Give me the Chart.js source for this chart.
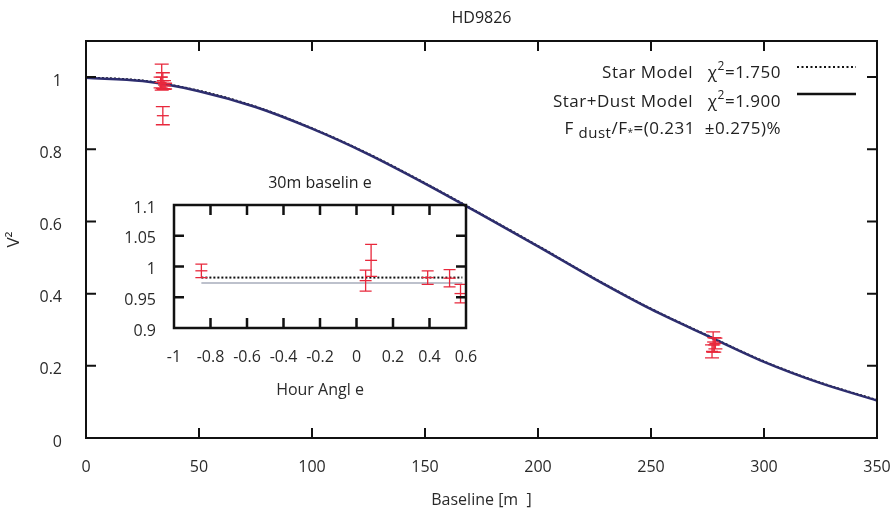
<!DOCTYPE html>
<html><head><meta charset="utf-8">
<script src="https://cdn.jsdelivr.net/npm/chart.js@4.4.0/dist/chart.umd.min.js"></script>
<style>
body{margin:0;background:#fff;}
#wrap{position:relative;width:894px;height:514px;background:#fff;}
#main{position:absolute;left:0;top:0;}
#inset{position:absolute;left:110px;top:165px;}
</style></head><body>
<div id="wrap"><canvas id="main" width="894" height="514"></canvas><canvas id="inset" width="380" height="245"></canvas></div>
<script>
// ---------- data ----------
const modelBaseline = [0, 25, 50, 75, 100, 125, 150, 175, 200, 225, 250, 275, 300, 325, 350];
const starModelV2   = [1.000, 0.991, 0.963, 0.919, 0.859, 0.788, 0.707, 0.621, 0.533, 0.443, 0.359, 0.285, 0.213, 0.154, 0.106];
const dustModelV2   = [0.998, 0.989, 0.961, 0.917, 0.857, 0.786, 0.705, 0.619, 0.531, 0.441, 0.357, 0.283, 0.211, 0.152, 0.104];

const obsBaseline = [33.5, 34, 34.5, 33, 34, 35, 277.5, 278, 277, 278.5];
const obsV2       = [1.000, 0.990, 0.978, 0.985, 0.893, 0.975, 0.266, 0.258, 0.240, 0.262];
const obsErr      = [0.036, 0.022, 0.012, 0.015, 0.025, 0.008, 0.028, 0.020, 0.018, 0.015];

const xTickValues = [0, 50, 100, 150, 200, 250, 300, 350];
const yTickValues = [0, 0.2, 0.4, 0.6, 0.8, 1];

// inset: 30 m baseline vs hour angle
const insetHA  = [-0.85, 0.05, 0.08, 0.39, 0.51, 0.57];
const insetV2  = [0.993, 0.977, 1.010, 0.982, 0.981, 0.956];
const insetErr = [0.011, 0.017, 0.026, 0.011, 0.014, 0.015];
const insetModelHA = [-0.85, 0.58];
const insetStarV2  = [0.982, 0.982];
const insetDustV2  = [0.973, 0.973];
const insetXTicks = [-1, -0.8, -0.6, -0.4, -0.2, 0, 0.2, 0.4, 0.6];
const insetYTicks = [0.9, 0.95, 1, 1.05, 1.1];

const legendText = {
  star: ['Star Model   \u03c7', '2', '=1.750'],
  dust: ['Star+Dust Model   \u03c7', '2', '=1.900'],
};

// ---------- helpers ----------
const FONT = '"Open Sans", sans-serif';
const RED = '#e8283c';
const NAVY = '#2d2d6e';
const pts = (xs, ys) => xs.map((x, i) => ({x, y: ys[i]}));
const fmt = v => String(Number(v.toFixed(2)));

function errorBarsPlugin(capHalf) {
  return {
    id: 'errorBars',
    afterDatasetsDraw(chart) {
      const ctx = chart.ctx, xs = chart.scales.x, ys = chart.scales.y;
      chart.data.datasets.forEach(ds => {
        if (!ds.errors) return;
        ctx.save();
        ctx.strokeStyle = ds.borderColor; ctx.lineWidth = 1.3;
        ds.data.forEach((p, j) => {
          const e = ds.errors[j];
          const px = xs.getPixelForValue(p.x);
          const yt = ys.getPixelForValue(p.y + e), yb = ys.getPixelForValue(p.y - e);
          ctx.beginPath();
          ctx.moveTo(px, yt); ctx.lineTo(px, yb);
          ctx.moveTo(px - capHalf, yt); ctx.lineTo(px + capHalf, yt);
          ctx.moveTo(px - capHalf, yb); ctx.lineTo(px + capHalf, yb);
          ctx.stroke();
        });
        ctx.restore();
      });
    }
  };
}

function framePlugin(cfg) {
  return {
    id: 'frame',
    afterDraw(chart) {
      const ctx = chart.ctx, xs = chart.scales.x, ys = chart.scales.y;
      const {left, right, top, bottom} = chart.chartArea;
      ctx.save();
      ctx.strokeStyle = '#111'; ctx.lineWidth = cfg.lw;
      ctx.strokeRect(left, top, right - left, bottom - top);
      ctx.beginPath();
      cfg.xTicks.forEach(v => {
        const px = xs.getPixelForValue(v);
        ctx.moveTo(px, bottom); ctx.lineTo(px, bottom - cfg.len);
        ctx.moveTo(px, top); ctx.lineTo(px, top + cfg.len);
      });
      cfg.yTicks.forEach(v => {
        const py = ys.getPixelForValue(v);
        ctx.moveTo(left, py); ctx.lineTo(left + cfg.len, py);
        ctx.moveTo(right, py); ctx.lineTo(right - cfg.len, py);
      });
      ctx.stroke();
      if (cfg.title) {
        ctx.fillStyle = '#222'; ctx.font = '16px ' + FONT;
        ctx.textAlign = 'center'; ctx.textBaseline = 'middle';
        ctx.fillText(cfg.title, (left + right) / 2, top - cfg.titleGap);
      }
      ctx.restore();
    }
  };
}

function drawRuns(ctx, runs, rightX, y) {
  let total = 0;
  runs.forEach(r => { ctx.font = r.size + 'px ' + FONT; r.w = ctx.measureText(r.t).width; total += r.w; });
  let x = rightX - total;
  ctx.textAlign = 'left'; ctx.textBaseline = 'middle';
  runs.forEach(r => { ctx.font = r.size + 'px ' + FONT; ctx.fillText(r.t, x, y + (r.dy || 0)); x += r.w; });
}

const legendPlugin = {
  id: 'legendBox',
  afterDraw(chart) {
    const ctx = chart.ctx;
    ctx.save(); ctx.fillStyle = '#222';
    if ('letterSpacing' in ctx) ctx.letterSpacing = '0.5px';
    const rx = 781;
    drawRuns(ctx, [{t: legendText.star[0], size: 17}, {t: legendText.star[1], size: 12, dy: -6}, {t: legendText.star[2], size: 17}], rx, 73);
    drawRuns(ctx, [{t: legendText.dust[0], size: 17}, {t: legendText.dust[1], size: 12, dy: -6}, {t: legendText.dust[2], size: 17}], rx, 102);
    drawRuns(ctx, [{t: 'F ', size: 17}, {t: 'dust', size: 15, dy: 5}, {t: '/F', size: 17}, {t: '*', size: 10, dy: 4},
                   {t: '=(0.231  \u00b10.275)%', size: 17}], rx, 129);
    if ('letterSpacing' in ctx) ctx.letterSpacing = '0px';
    ctx.lineWidth = 2; ctx.strokeStyle = '#111';
    ctx.setLineDash([2, 2.5]);
    ctx.beginPath(); ctx.moveTo(797, 67); ctx.lineTo(856, 67); ctx.stroke();
    ctx.setLineDash([]); ctx.lineWidth = 2.5;
    ctx.beginPath(); ctx.moveTo(797, 94); ctx.lineTo(856, 94); ctx.stroke();
    ctx.restore();
  }
};

Chart.defaults.font.family = FONT;
Chart.defaults.color = '#2a2a2a';

// ---------- main chart ----------
new Chart(document.getElementById('main'), {
  type: 'scatter',
  data: {
    datasets: [
      {label: 'Star+Dust Model', data: pts(modelBaseline, dustModelV2), showLine: true, pointRadius: 0,
       borderColor: NAVY, borderWidth: 2.5, cubicInterpolationMode: 'monotone', order: 2},
      {label: 'Star Model', data: pts(modelBaseline, starModelV2), showLine: true, pointRadius: 0,
       borderColor: '#111', borderWidth: 1.5, borderDash: [2, 2], cubicInterpolationMode: 'monotone', order: 3},
      {label: 'data', data: pts(obsBaseline, obsV2), errors: obsErr, showLine: false, pointStyle: 'line',
       pointRadius: 6, pointBorderWidth: 1.3, borderColor: RED, backgroundColor: RED, order: 0}
    ]
  },
  options: {
    responsive: false, animation: false, devicePixelRatio: 1,
    layout: {padding: {top: 41, right: 17, left: 0, bottom: 0}},
    plugins: {legend: {display: false}, tooltip: {enabled: false}},
    scales: {
      x: {
        type: 'linear', min: 0, max: 350,
        afterBuildTicks: s => { s.ticks = xTickValues.map(v => ({value: v})); },
        grid: {display: false}, border: {display: false},
        ticks: {font: {size: 16}, padding: 12, maxRotation: 0, autoSkip: false, callback: v => fmt(v)},
        title: {display: true, text: 'Baseline [m  ]', font: {size: 16}, padding: {top: 6}},
        afterFit: s => { s.height = 76; s.paddingRight = 0; s.paddingLeft = 0; }
      },
      y: {
        type: 'linear', min: 0, max: 1.1,
        afterBuildTicks: s => { s.ticks = yTickValues.map(v => ({value: v})); },
        grid: {display: false}, border: {display: false},
        ticks: {font: {size: 16}, padding: 16, labelOffset: 4, callback: v => fmt(v)},
        title: {display: true, text: 'V\u00b2', font: {size: 17}, padding: {bottom: 0}},
        afterFit: s => { s.width = 86; }
      }
    }
  },
  plugins: [errorBarsPlugin(7), framePlugin({lw: 2, len: 10, xTicks: [50, 100, 150, 200, 250, 300], yTicks: [0.2, 0.4, 0.6, 0.8, 1], title: 'HD9826', titleGap: 23}), legendPlugin]
});

// ---------- inset chart ----------
new Chart(document.getElementById('inset'), {
  type: 'scatter',
  data: {
    datasets: [
      {label: 'Star Model', data: pts(insetModelHA, insetStarV2), showLine: true, pointRadius: 0,
       borderColor: '#111', borderWidth: 2, borderDash: [2, 2], order: 1},
      {label: 'Star+Dust Model', data: pts(insetModelHA, insetDustV2), showLine: true, pointRadius: 0,
       borderColor: '#a7adbb', borderWidth: 1.5, order: 2},
      {label: 'data', data: pts(insetHA, insetV2), errors: insetErr, showLine: false, pointStyle: 'line',
       pointRadius: 6, pointBorderWidth: 1.3, borderColor: RED, backgroundColor: RED, order: 0}
    ]
  },
  options: {
    responsive: false, animation: false, devicePixelRatio: 1,
    layout: {padding: {top: 40, right: 24, left: 0, bottom: 6}},
    plugins: {legend: {display: false}, tooltip: {enabled: false}},
    scales: {
      x: {
        type: 'linear', min: -1, max: 0.6,
        afterBuildTicks: s => { s.ticks = insetXTicks.map(v => ({value: v})); },
        grid: {display: false}, border: {display: false},
        ticks: {font: {size: 16}, padding: 12, maxRotation: 0, autoSkip: false, callback: v => fmt(v)},
        title: {display: true, text: 'Hour Angl e', font: {size: 16}, padding: {top: 8}},
        afterFit: s => { s.height = 76; s.paddingRight = 0; s.paddingLeft = 0; }
      },
      y: {
        type: 'linear', min: 0.9, max: 1.1,
        afterBuildTicks: s => { s.ticks = insetYTicks.map(v => ({value: v})); },
        grid: {display: false}, border: {display: false},
        ticks: {font: {size: 16}, padding: 10, labelOffset: 3, callback: v => fmt(v)},
        afterFit: s => { s.width = 64; }
      }
    }
  },
  plugins: [errorBarsPlugin(6), framePlugin({lw: 2.5, len: 10, xTicks: [-0.8, -0.6, -0.4, -0.2, 0, 0.2, 0.4], yTicks: [0.95, 1, 1.05], title: '30m baselin e', titleGap: 22})]
});
</script>
</body></html>
